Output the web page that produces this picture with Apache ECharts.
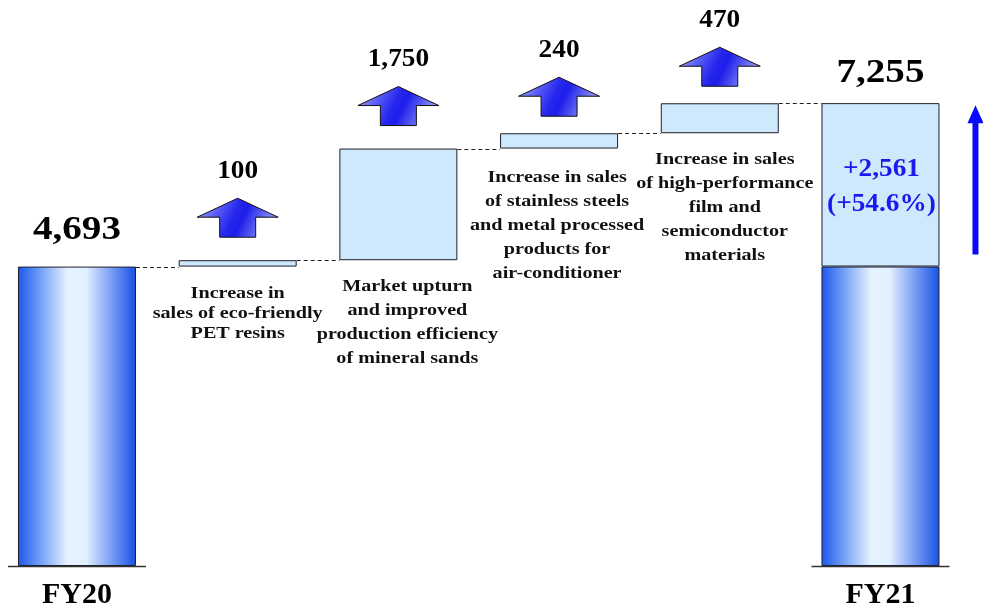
<!DOCTYPE html>
<html>
<head>
<meta charset="utf-8">
<script src="https://cdn.jsdelivr.net/npm/echarts@6/dist/echarts.min.js"></script>
<style>
  html, body { margin: 0; padding: 0; background: #ffffff; }
  #main { width: 983px; height: 610px; }
</style>
</head>
<body>
<div id="main"></div>
<script>
// ---- data ----
const categories = ['FY20', 'PET resins', 'Mineral sands', 'Stainless steels', 'Film & semiconductor', 'FY21'];
const tickLabels = ['FY20', '', '', '', '', 'FY21'];
const startTotal = 4693;                 // FY20 net sales
const increments = [100, 1750, 240, 470]; // contributions between the two years
const endTotal = 7255;                   // FY21 net sales
const totalChange = 2561;                // year-on-year change
const descriptions = [
  'Increase in\nsales of eco-friendly\nPET resins',
  'Market upturn\nand improved\nproduction efficiency\nof mineral sands',
  'Increase in sales\nof stainless steels\nand metal processed\nproducts for\nair-conditioner',
  'Increase in sales\nof high-performance\nfilm and\nsemiconductor\nmaterials'
];

// ---- styling ----
const SERIF = '"Liberation Serif","Times New Roman",serif';
const BAR_W = 118;
const OUTLINE = '#1e1e2c';
const LIGHT = '#cde9fb';
const descLineHeight = [20, 24, 24, 24];
const descDx = [0, 9, -2, 5];
const descGap = [17, 14, 17, 14];
const arrowGap = [62, 62, 56, 56];
const totalLabelGap = [36, 30];

const fmt = v => v.toLocaleString('en-US');

// waterfall levels
const n = categories.length;
const lows = new Array(n), highs = new Array(n);
lows[0] = 0; highs[0] = startTotal;
let level = startTotal;
increments.forEach((v, k) => { lows[k + 1] = level; level += v; highs[k + 1] = level; });
lows[n - 1] = 0; highs[n - 1] = endTotal;
const fy21Base = endTotal - totalChange;

// [value, position] pairs; value first so it is the stacked dimension
const baseData = categories.map((c, i) => [(i > 0 && i < n - 1) ? lows[i] : '-', i]);
const totalData = categories.map((c, i) => [i === 0 ? startTotal : (i === n - 1 ? fy21Base : '-'), i]);
const riseData = categories.map((c, i) => [(i > 0 && i < n - 1) ? increments[i - 1] : (i === n - 1 ? totalChange : '-'), i]);

const totalFill = {
  type: 'linear', x: 0, y: 0, x2: 1, y2: 0,
  colorStops: [
    { offset: 0, color: '#1b57ec' },
    { offset: 0.18, color: '#6f9cf6' },
    { offset: 0.42, color: '#e6f3ff' },
    { offset: 0.58, color: '#e2efff' },
    { offset: 0.82, color: '#6a93f3' },
    { offset: 1, color: '#1a50e4' }
  ]
};

function blockArrow(cx, tipY) {
  const w = 81, h = 39, head = 19, shaft = 36;
  return {
    type: 'polygon',
    shape: { points: [
      [cx, tipY], [cx + w / 2, tipY + head], [cx + shaft / 2, tipY + head],
      [cx + shaft / 2, tipY + h], [cx - shaft / 2, tipY + h],
      [cx - shaft / 2, tipY + head], [cx - w / 2, tipY + head]
    ] },
    style: {
      fill: new echarts.graphic.LinearGradient(0, 0, 1, 1, [
        { offset: 0, color: '#a3adff' },
        { offset: 0.45, color: '#2626ee' },
        { offset: 0.55, color: '#1e1eea' },
        { offset: 1, color: '#c4ccff' }
      ]),
      stroke: '#111', lineWidth: 1
    }
  };
}

function label(text, x, y, size, scaleX, color, lineHeight, va) {
  return {
    type: 'text', x: x, y: y, scaleX: scaleX || 1,
    style: {
      text: text, fill: color || '#000', fontSize: size, fontWeight: 'bold',
      fontFamily: SERIF, align: 'center', verticalAlign: va || 'middle',
      lineHeight: lineHeight || size
    }
  };
}

function renderItem(params, api) {
  const i = api.value(0);
  const cx = api.coord([i, 0])[0];
  const y0 = api.coord([i, 0])[1];
  const yLow = api.coord([i, lows[i]])[1];
  const yHigh = api.coord([i, highs[i]])[1];
  const kids = [];

  // dashed connector to the next column
  if (i < n - 1) {
    const nx = api.coord([i + 1, 0])[0];
    const yl = Math.round(yHigh) + 0.5;
    kids.push({ type: 'line', shape: { x1: cx + BAR_W / 2, y1: yl, x2: nx - BAR_W / 2, y2: yl },
      style: { stroke: '#222', lineWidth: 1, lineDash: [4, 3] } });
  }

  if (i === 0 || i === n - 1) {
    const t = i === 0 ? 0 : 1;
    // floor line under the year totals
    kids.push({ type: 'line', shape: { x1: cx - 69, y1: y0 + 0.5, x2: cx + 69, y2: y0 + 0.5 },
      style: { stroke: '#333', lineWidth: 1.6 } });
    kids.push(label(fmt(highs[i]), cx, yHigh - totalLabelGap[t], 34, 1.15));
    if (i === n - 1) {
      const yb = api.coord([i, fy21Base])[1];
      const pct = (totalChange / startTotal * 100).toFixed(1);
      kids.push(label('+' + fmt(totalChange) + '\n(+' + pct + '%)', cx + 1, (yb + yHigh) / 2 + 2,
        26, 1.05, '#1a1aee', 35));
      // thin growth arrow beside the FY21 column
      const ax = cx + 95, tip = yHigh + 2, bot = yb - 12;
      kids.push({ type: 'polygon', shape: { points: [
        [ax, tip], [ax + 8, tip + 18], [ax + 3, tip + 18], [ax + 3, bot],
        [ax - 3, bot], [ax - 3, tip + 18], [ax - 8, tip + 18]
      ] }, style: { fill: '#0a0af5' } });
    }
  } else {
    const k = i - 1;
    const tipY = yHigh - arrowGap[k];
    kids.push(blockArrow(cx, tipY));
    kids.push(label(fmt(increments[k]), cx, tipY - 27, 26, 1.05));
    kids.push(label(descriptions[k], cx + descDx[k], yLow + descGap[k], 17.5, 1.15, '#111',
      descLineHeight[k], 'top'));
  }
  return { type: 'group', children: kids };
}

const chart = echarts.init(document.getElementById('main'), null, { renderer: 'canvas' });
chart.setOption({
  animation: false,
  backgroundColor: '#ffffff',
  grid: { left: 0, right: 0, top: 55.6, bottom: 43 },
  xAxis: {
    type: 'value', min: -0.479, max: 5.638,
    axisLine: { show: false }, axisTick: { show: false }, splitLine: { show: false },
    axisLabel: {
      customValues: [0, n - 1], margin: 14,
      formatter: v => tickLabels[Math.round(v)] || '',
      fontSize: 30, fontWeight: 'bold', fontFamily: SERIF, color: '#000'
    }
  },
  yAxis: { type: 'value', min: 0, max: 8000, show: false },
  series: [
    { name: 'base', type: 'bar', stack: 'w', barWidth: BAR_W, silent: true, encode: { x: 1, y: 0 },
      itemStyle: { color: 'rgba(0,0,0,0)' }, data: baseData },
    { name: 'total', type: 'bar', stack: 'w', barWidth: BAR_W, encode: { x: 1, y: 0 },
      itemStyle: { color: totalFill, borderColor: OUTLINE, borderWidth: 1 }, data: totalData },
    { name: 'rise', type: 'bar', stack: 'w', barWidth: BAR_W, encode: { x: 1, y: 0 },
      itemStyle: { color: LIGHT, borderColor: OUTLINE, borderWidth: 1 }, data: riseData },
    { name: 'notes', type: 'custom', clip: false, z: 5, silent: true,
      data: categories.map((c, i) => [i]), renderItem: renderItem }
  ]
});
</script>
</body>
</html>
